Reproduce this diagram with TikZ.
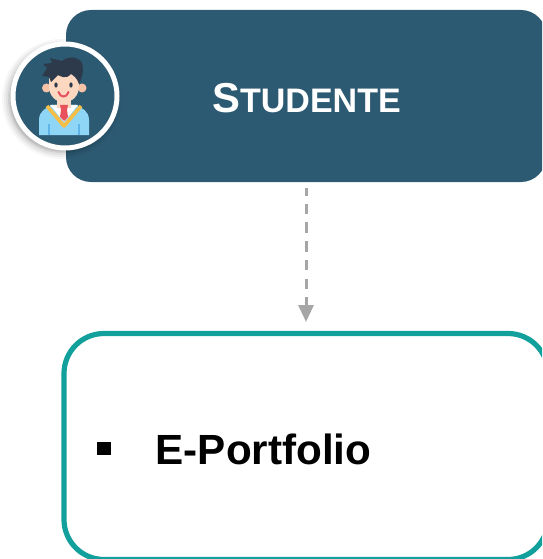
\documentclass[tikz,border=0pt]{standalone}
\usepackage{fontspec}
\setmainfont{Liberation Sans}
\usetikzlibrary{arrows.meta,calc}
\definecolor{slate}{HTML}{2D5A73}
\definecolor{tealline}{HTML}{12A09C}
\definecolor{dashgrey}{HTML}{A6A6A6}
\definecolor{hair}{HTML}{2C3A4B}
\definecolor{skin}{HTML}{FCD8C0}
\definecolor{ear}{HTML}{F7C3A6}
\definecolor{jacket}{HTML}{8FD5F5}
\definecolor{jacketdark}{HTML}{5FB5E8}
\definecolor{collar}{HTML}{F6BE45}
\definecolor{tie}{HTML}{E8505B}
\tikzset{
  headerbox/.style={fill=slate,rounded corners=25pt,minimum width=480pt,minimum height=172pt,inner sep=0pt},
  contentbox/.style={draw=tealline,line width=5.2pt,fill=white,rounded corners=40pt,minimum width=484pt,minimum height=226pt,inner sep=0pt},
  flowdash/.style={draw=dashgrey,line width=3pt,dash pattern=on 10.5pt off 8.2pt,dash phase=2.5pt},
  flowhead/.style={draw=dashgrey,line width=3pt,-{Triangle[length=17pt,width=15pt,fill=dashgrey]}},
  headertext/.style={text=white,font=\bfseries,inner sep=0pt,anchor=base},
  bodytext/.style={text=black,font=\fontsize{42.2}{48}\selectfont\bfseries,inner sep=0pt,anchor=base west},
}
\begin{document}
\begin{tikzpicture}[x=1pt,y=-1pt]
\useasboundingbox (0,0) rectangle (542,559);
\clip (0,0) rectangle (542,559);
\node[headerbox] (head) at (306,96) {};
\node[contentbox] (body) at (306,446.5) {};
\node[headertext] (title) at (306.5,112.5) {\fontsize{41.8}{44}\selectfont S\fontsize{34}{38}\selectfont TUDENTE};
\node[bodytext] (item) at (155.5,464.5) {E-Portfolio};
\node[fill=black,minimum size=13.5pt,inner sep=0pt] (bullet) at (104,448.5) {};
% connector
\coordinate (from) at ([yshift=-5.3pt]head.south);
\coordinate (shaft) at ([yshift=-115pt]head.south);
\coordinate (tip) at ([yshift=8.9pt]body.north);
\draw[flowdash] (from) -- (shaft);
\draw[flowhead] (shaft) -- (tip);
% avatar shadow
\foreach \r/\o in {60/.03,58/.04,56/.05,54/.07,52.5/.09}{
  \fill[black,opacity=\o] (62,99) circle (\r pt);
}
\node[circle,fill=slate,draw=white,line width=5pt,minimum size=104pt,inner sep=0pt] (badge) at (65,96) {};
% avatar body
\fill[jacket] (39,135) -- (39,120) .. controls (39,111) and (46,108) .. (52,105) -- (76,105) .. controls (82,108) and (89,111) .. (89,120) -- (89,135) -- cycle;
\fill[jacketdark] (48,124) rectangle (50,135);
\fill[jacketdark] (78,124) rectangle (80,135);
\fill[white] (50,105) -- (78,105) -- (64,122) -- cycle;
\fill[skin] (57,98) rectangle (71,108);
\fill[tie] (60,105) -- (68,105) -- (67,110) -- (68,117) -- (64,121) -- (60,117) -- (61,110) -- cycle;
\draw[collar,line width=3.6pt,line join=round] (47,106) -- (64,126) -- (81,106);
% head
\fill[ear] (46.5,88) circle (4.5pt);
\fill[ear] (82,88) circle (4.5pt);
\fill[skin] (49,70) rectangle (79,88);
\fill[skin] (49,85) .. controls (49,97) and (56,102) .. (64,102) .. controls (72,102) and (79,97) .. (79,85) -- cycle;
\fill[hair] (42,76) -- (47,68) -- (43,64) -- (52,63) -- (50,58) -- (62,61) .. controls (68,56) and (78,56) .. (82,63) .. controls (84,68) and (83,76) .. (79,84) .. controls (77,78) and (74,76) .. (71,74) .. controls (66,80) and (60,76) .. (58,75) .. controls (55,78) and (53,80) .. (51,82) -- (49,77) -- cycle;
\fill[hair] (56,85) ellipse (1.7pt and 2.6pt);
\fill[hair] (71,85) ellipse (1.7pt and 2.6pt);
\draw[tie,line width=2pt,line cap=round] (58.5,92) .. controls (60,98) and (67,98) .. (68.5,92);
\end{tikzpicture}
\end{document}
